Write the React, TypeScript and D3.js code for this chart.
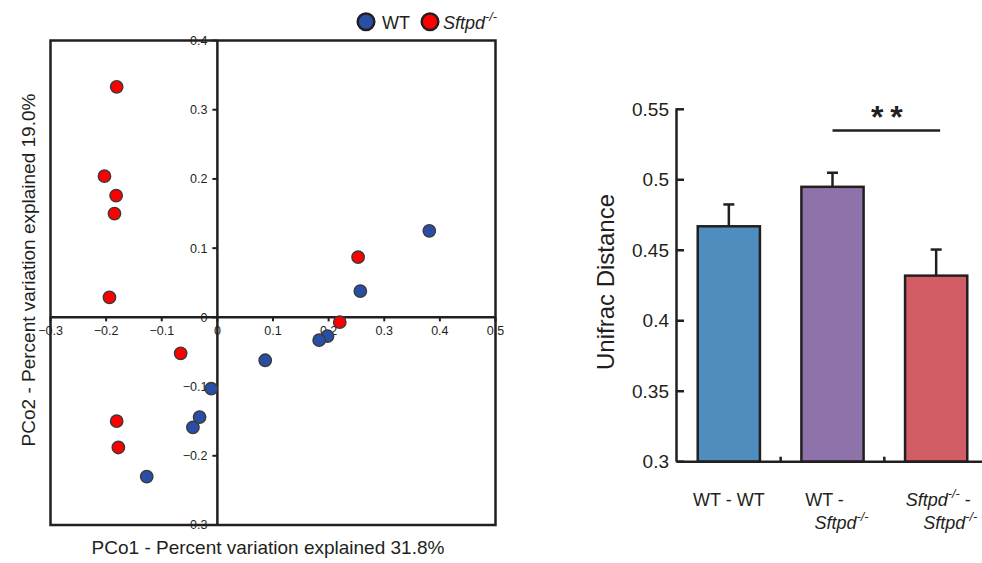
import React from "react";
import * as d3 from "d3";

// PCoA points (PCo1, PCo2)
const wtPoints = [
  [0.381, 0.125], [0.257, 0.038], [0.198, -0.027], [0.183, -0.033],
  [0.086, -0.062], [-0.011, -0.103], [-0.032, -0.144], [-0.044, -0.159],
  [-0.127, -0.23],
];
const koPoints = [
  [-0.181, 0.333], [-0.203, 0.204], [-0.182, 0.176], [-0.185, 0.15],
  [-0.194, 0.029], [0.253, 0.087], [0.22, -0.007], [-0.066, -0.052],
  [-0.181, -0.15], [-0.178, -0.188],
];
const pcoXTicks = [-0.3, -0.2, -0.1, 0, 0.1, 0.2, 0.3, 0.4, 0.5];
const pcoYTicks = [-0.3, -0.2, -0.1, 0, 0.1, 0.2, 0.3, 0.4];

// Unifrac bars
const categories = ["WT - WT", "WT - Sftpd", "Sftpd - Sftpd"];
const categoryLines = [["WT - WT"], ["WT -", "Sftpd"], ["Sftpd -", "Sftpd"]];
const means = [0.467, 0.495, 0.432];
const errors = [0.0155, 0.01, 0.0185];
const barTicks = [0.3, 0.35, 0.4, 0.45, 0.5, 0.55];
const barColors = ["#4f8dbf", "#8e73ab", "#d35d64"];

const FONT = "'Liberation Sans', Arial, sans-serif";
const INK = "#231f20";

// "Sftpd" is rendered italic with a -/- superscript
function Rich({ text, size }: { text: string; size: number }) {
  const parts = text.split("Sftpd");
  const out: any[] = [];
  parts.forEach((p, i) => {
    if (i > 0) {
      out.push(<tspan key={"s" + i} fontStyle="italic">Sftpd</tspan>);
      out.push(
        <tspan key={"p" + i} fontStyle="italic" fontSize={size * 0.7} dy={-size * 0.42}>-/-</tspan>
      );
      if (p) out.push(<tspan key={"r" + i} dy={size * 0.42}>{p}</tspan>);
    } else if (p) {
      out.push(<tspan key={"t" + i}>{p}</tspan>);
    }
  });
  return <>{out}</>;
}

function Scatter() {
  const x = d3.scaleLinear().domain([-0.3, 0.5]).range([50.5, 495.5]);
  const y = d3.scaleLinear().domain([-0.3, 0.4]).range([525, 40.5]);
  const fmt = (v: number) => (v === 0 ? "0" : d3.format("")(+v.toFixed(1)));
  return (
    <g fontFamily={FONT}>
      {/* tick labels */}
      {pcoYTicks.map((t) => (
        <text key={"yl" + t} x={x(0) - 10} y={y(t)} dy="0.35em" textAnchor="end" fontSize={12.5} fill={INK}>
          {fmt(t)}
        </text>
      ))}
      {pcoXTicks.map((t) => (
        <text key={"xl" + t} x={x(t)} y={y(0) + 18} textAnchor="middle" fontSize={12.5} fill={INK}>
          {fmt(t)}
        </text>
      ))}
      <rect x={x(-0.3)} y={y(0.4)} width={x(0.5) - x(-0.3)} height={y(-0.3) - y(0.4)}
        fill="none" stroke={INK} strokeWidth={2.5} />
      <line x1={x(-0.3)} x2={x(0.5)} y1={y(0)} y2={y(0)} stroke={INK} strokeWidth={2.5} />
      <line x1={x(0)} x2={x(0)} y1={y(0.4)} y2={y(-0.3)} stroke={INK} strokeWidth={2.5} />
      {pcoYTicks.map((t) => (
        <line key={"yt" + t} x1={x(0) - 5} x2={x(0)} y1={y(t)} y2={y(t)} stroke={INK} strokeWidth={2} />
      ))}
      {pcoXTicks.map((t) => (
        <line key={"xt" + t} x1={x(t)} x2={x(t)} y1={y(0)} y2={y(0) + 4} stroke={INK} strokeWidth={2} />
      ))}
      {wtPoints.map((d, i) => (
        <circle key={"w" + i} cx={x(d[0])} cy={y(d[1])} r={6.2} fill="#2a4ea6" stroke="#3a3a3a" strokeWidth={1.4} />
      ))}
      {koPoints.map((d, i) => (
        <circle key={"k" + i} cx={x(d[0])} cy={y(d[1])} r={6.2} fill="#ff0000" stroke="#3a3a3a" strokeWidth={1.4} />
      ))}
      {/* legend */}
      <circle cx={366} cy={21.7} r={8.3} fill="#2a4ea6" stroke={INK} strokeWidth={2.5} />
      <text x={382} y={28.5} fontSize={18} fill={INK}>WT</text>
      <circle cx={430} cy={21.7} r={8.3} fill="#ff0000" stroke={INK} strokeWidth={2.5} />
      <text x={443} y={28.5} fontSize={18} fill={INK}><Rich text="Sftpd" size={18} /></text>
      {/* axis titles */}
      <text x={268} y={554} textAnchor="middle" fontSize={19} fill={INK}>
        PCo1 - Percent variation explained 31.8%
      </text>
      <text transform="translate(35,270) rotate(-90)" textAnchor="middle" fontSize={19} fill={INK}>
        PCo2 - Percent variation explained 19.0%
      </text>
    </g>
  );
}

function Bars() {
  const x = d3.scaleBand().domain(categories).range([677, 988]).paddingInner(0.4).paddingOuter(0.2);
  const y = d3.scaleLinear().domain([0.3, 0.55]).range([461.7, 109.3]);
  const lineShift = [[0], [-8, 9], [2, 14]];
  const step = x.step();
  return (
    <g fontFamily={FONT} fill={INK}>
      {categories.map((c, i) => (
        <g key={c}>
          <rect x={x(c)} y={y(means[i])} width={x.bandwidth()} height={y(0.3) - y(means[i])}
            fill={barColors[i]} stroke={INK} strokeWidth={2.5} />
          <line x1={x(c)! + x.bandwidth() / 2} x2={x(c)! + x.bandwidth() / 2}
            y1={y(means[i])} y2={y(means[i] + errors[i])} stroke={INK} strokeWidth={2.5} />
          <line x1={x(c)! + x.bandwidth() / 2 - 5.5} x2={x(c)! + x.bandwidth() / 2 + 5.5}
            y1={y(means[i] + errors[i])} y2={y(means[i] + errors[i])} stroke={INK} strokeWidth={2.5} />
          {categoryLines[i].map((ln, j) => (
            <text key={j} x={x(c)! + x.bandwidth() / 2 + lineShift[i][j]} y={506 + j * 23}
              textAnchor="middle" fontSize={18}>
              <Rich text={ln} size={18} />
            </text>
          ))}
        </g>
      ))}
      {/* axes */}
      <line x1={676.5} x2={982} y1={y(0.3)} y2={y(0.3)} stroke={INK} strokeWidth={2.5} />
      <line x1={676.5} x2={676.5} y1={y(0.55) - 1} y2={y(0.3)} stroke={INK} strokeWidth={2.5} />
      {barTicks.map((t) => (
        <g key={t}>
          <line x1={676.5} x2={684} y1={y(t)} y2={y(t)} stroke={INK} strokeWidth={2.5} />
          <text x={669} y={y(t)} dy="0.35em" textAnchor="end" fontSize={19}>{String(t)}</text>
        </g>
      ))}
      {[1, 2].map((k) => (
        <line key={k} x1={x(categories[0])! - step * 0.2 + step * k} x2={x(categories[0])! - step * 0.2 + step * k}
          y1={y(0.3)} y2={y(0.3) - 5} stroke={INK} strokeWidth={2.5} />
      ))}
      <text transform="translate(614,282) rotate(-90)" textAnchor="middle" fontSize={24}>Unifrac Distance</text>
      {/* significance */}
      <line x1={x(categories[1])! + x.bandwidth() / 2} x2={x(categories[2])! + x.bandwidth() / 2 + 4}
        y1={y(0.535)} y2={y(0.535)} stroke={INK} strokeWidth={2.5} />
      <text x={(x(categories[1])! + x(categories[2])!) / 2 + x.bandwidth() / 2 + 6} y={128}
        textAnchor="middle" fontSize={32} fontWeight="bold" letterSpacing={7}>**</text>
    </g>
  );
}

export default function App() {
  return (
    <svg width={982} height={563} viewBox="0 0 982 563"
      style={{ position: "absolute", left: 0, top: 0, background: "#fff" }}>
      <rect width={982} height={563} fill="#fff" />
      <Scatter />
      <Bars />
    </svg>
  );
}
